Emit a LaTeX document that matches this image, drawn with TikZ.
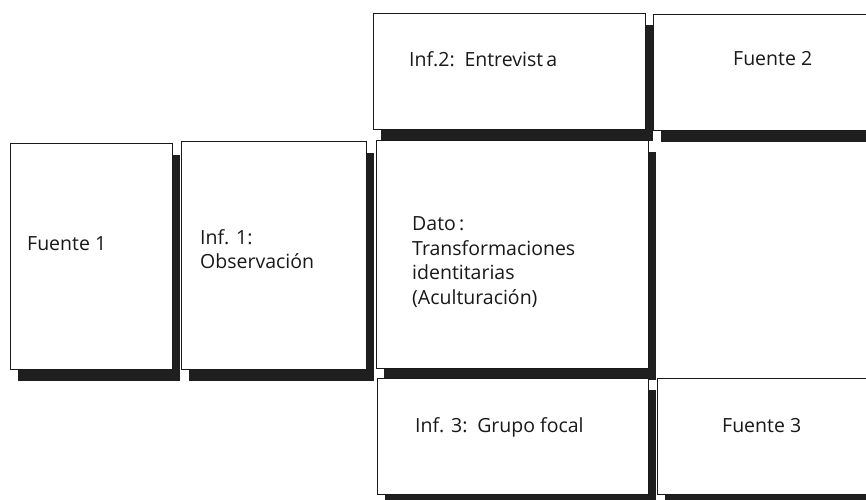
\documentclass[tikz,border=0pt]{standalone}
\usepackage{fontspec}
\setmainfont{Open Sans}
\usepackage{tikz}
\usetikzlibrary{shadows}

\begin{document}
\begin{tikzpicture}[x=1pt,y=-1pt,
	caja/.style={draw=black!90,line width=1.2pt,fill=white,rectangle,anchor=north west,inner sep=0pt,
		drop shadow={shadow xshift=7pt,shadow yshift=-11pt,opacity=1,fill=black!88}},
	txt/.style={anchor=west,inner sep=0pt,align=left,text=black!90,font=\fontsize{19.5}{24.5}\selectfont}]
	\useasboundingbox (0,0) rectangle (866,499);
	\clip (0,0) rectangle (866,499);

	% cajas
	\node[caja,minimum width=162pt,minimum height=226pt] (fuente1) at (10,143) {};
	\node[caja,minimum width=185pt,minimum height=228pt] (inf1) at (181,141) {};
	\node[caja,minimum width=272pt,minimum height=116pt] (inf2) at (373,13) {};
	\node[caja,minimum width=230pt,minimum height=116pt] (fuente2) at (653,14) {};
	\node[caja,minimum width=272pt,minimum height=228pt] (dato) at (376,140) {};
	\node[caja,minimum width=271pt,minimum height=116pt] (inf3) at (377,378) {};
	\node[caja,minimum width=230pt,minimum height=116pt] (fuente3) at (657,378) {};

	% textos
	\node[txt] (tfuente1) at (27,244) {Fuente 1};
	\node[txt] (tinf1) at (200,249) {Inf. 1:\\Observación};
	\node[txt] (tinf2) at (409,59) {Inf.2:\enspace Entrevist\,a};
	\node[txt] (tfuente2) at (733,59) {Fuente 2};
	\node[txt] (tdato) at (412,262) {Dato\,:\\Transformaciones\\identitarias\\(Aculturación)};
	\node[txt] (tinf3) at (415,427) {Inf. 3:\enspace Grupo focal};
	\node[txt] (tfuente3) at (722,426) {Fuente 3};

\end{tikzpicture}
\end{document}
